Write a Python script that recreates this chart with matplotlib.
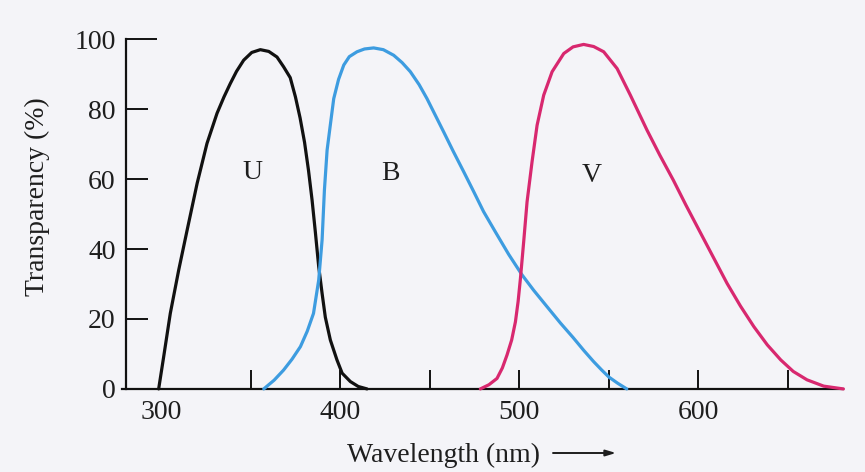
import matplotlib
matplotlib.use("Agg")
import matplotlib.pyplot as plt

# ---- data ----
u_wl = [298.5, 301.3, 305, 309.7, 314.4, 320, 325.5, 331.1, 335, 338.5, 342, 346, 350.5,
        355.3, 360, 364.6, 368.3, 372, 374.9, 377.5, 380, 382.2, 384.2, 386, 387.9,
        389.8, 391.6, 394.4, 398.1, 401, 405.6, 410, 414.9]
u_t = [0, 9.2, 21.6, 34, 45.4, 58.8, 70.2, 78.8, 83.5, 87.3, 90.8, 94, 96.2,
       97, 96.5, 94.9, 92.1, 89, 83.5, 77.5, 70.5, 62.5, 54, 45, 35,
       27.3, 20.5, 14, 8.3, 4.5, 2.1, 0.7, 0]

b_wl = [357.2, 363, 368.3, 373, 377.7, 381.5, 385, 387.9, 389.8, 391.1, 392.6, 394.4,
        396.3, 399, 401.9, 405, 409.3, 413.5, 418.6, 424, 429.8, 434.5, 439.1, 444,
        448.4, 453, 457.7, 463, 468.9, 474.5, 480, 486.6, 494, 501.5, 508, 515,
        523, 530, 536, 541.5, 546, 550, 555, 560]
b_t = [0, 2.5, 5.4, 8.5, 12.1, 16.5, 21.6, 31.1, 42.6, 56.9, 68.3, 75.5,
       83, 88.5, 92.6, 95, 96.4, 97.2, 97.5, 97, 95.4, 93.3, 90.7, 87,
       83, 78.3, 73.5, 68, 62.1, 56.4, 50.7, 44.9, 38.5, 32.6, 28.2, 23.8,
       18.8, 14.7, 11.0, 7.8, 5.4, 3.4, 1.6, 0]

v_wl = [478.2, 483, 487.5, 490.5, 493.1, 495.7, 497.8, 499.3, 500.6, 502.4, 504.3, 507.1,
        509.9, 513.6, 518.3, 524.8, 530, 535.9, 541.5, 547.1, 554.6, 562, 571.3, 578.5,
        586, 593, 601, 608.5, 616, 623.5, 631, 638.5, 646, 653, 660.7, 670, 681]
v_t = [0, 1.2, 3, 6, 9.7, 14, 19.2, 25, 31.6, 42, 53.5, 65,
       75.4, 84, 90.7, 95.9, 97.8, 98.5, 97.9, 96.4, 91.6, 84, 74.0, 66.8,
       59.7, 52.6, 44.8, 37.5, 30.2, 23.7, 17.8, 12.6, 8.3, 5.0, 2.6, 0.8, 0]

labels = ["U", "B", "V"]
label_pos = [(350.7, 62), (428, 61.7), (540.6, 61)]

x_ticks = [300, 350, 400, 450, 500, 550, 600, 650]
x_ticklabels = ["300", "", "400", "", "500", "", "600", ""]
y_ticks = [0, 20, 40, 60, 80, 100]

colors = ["#111111", "#3d9ce0", "#d8286f"]

# ---- figure ----
bg = "#f4f4f8"
FS = 20
fam = ["Liberation Serif", "DejaVu Serif"]
fig = plt.figure(figsize=(8.65, 4.72), dpi=100, facecolor=bg)
ax = fig.add_axes([0.141, 0.176, 0.834, 0.741], facecolor=bg)

font = dict(family=fam, color="#1e1e1e")

for wl, t, c in zip([u_wl, b_wl, v_wl], [u_t, b_t, v_t], colors):
    ax.plot(wl, t, color=c, lw=2.3, solid_capstyle="round", solid_joinstyle="round",
            clip_on=False, zorder=3)

for lab, (x, y) in zip(labels, label_pos):
    ax.text(x, y, lab, ha="center", va="center", fontsize=FS, **font)

ax.set_xlim(278, 681)
ax.set_ylim(0, 100)

for s in ["top", "right"]:
    ax.spines[s].set_visible(False)
ax.spines["left"].set_position(("data", 280))
for s in ["left", "bottom"]:
    ax.spines[s].set_linewidth(1.6)
    ax.spines[s].set_color("#111111")

ax.set_xticks(x_ticks)
ax.set_xticklabels(x_ticklabels)
ax.set_yticks(y_ticks)
ax.set_yticklabels([str(v) for v in y_ticks])

ax.tick_params(axis="x", direction="in", length=14, width=1.4, pad=8, colors="#111111")
ax.tick_params(axis="y", direction="in", length=16, width=1.4, pad=7, colors="#111111")
for lbl in ax.get_xticklabels() + ax.get_yticklabels():
    lbl.set_fontfamily(fam)
    lbl.set_fontsize(FS)
    lbl.set_color("#1e1e1e")

ax.xaxis.get_major_ticks()[0].tick1line.set_visible(False)
ax.yaxis.get_major_ticks()[0].tick1line.set_visible(False)
ax.yaxis.get_major_ticks()[-1].tick1line.set_markersize(22)

ax.set_ylabel("Transparency (%)", fontsize=FS, **font)
ax.yaxis.set_label_coords(-0.10, 0.55)

fig.text(347 / 865, 1 - 455 / 472, "Wavelength (nm)", ha="left", va="center",
         fontsize=FS, **font)
ax.annotate("", xy=(616 / 865, 1 - 453 / 472), xytext=(553 / 865, 1 - 453 / 472),
            xycoords="figure fraction", textcoords="figure fraction",
            arrowprops=dict(arrowstyle="-|>,head_length=0.6,head_width=0.18",
                            color="#1e1e1e", lw=1.4, shrinkA=0, shrinkB=0))

fig.savefig("out.png", dpi=100, facecolor=bg)
